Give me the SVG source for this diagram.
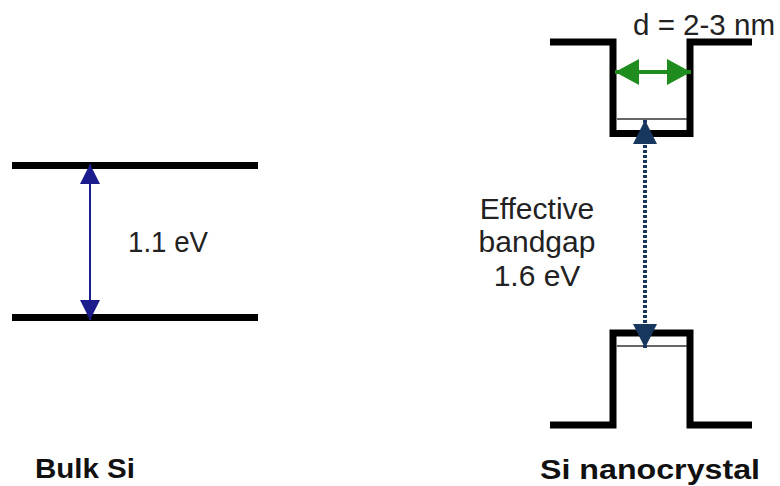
<svg xmlns="http://www.w3.org/2000/svg" width="780" height="486" viewBox="0 0 780 486">
<style>
.band{stroke:#000;stroke-width:7;fill:none;stroke-linejoin:miter;stroke-linecap:butt}
.lvl{stroke:#333;stroke-width:1.5;fill:none}
.t{font-family:"Liberation Sans",Arial,sans-serif;font-size:30px;fill:#222}
.b{font-family:"Liberation Sans",Arial,sans-serif;font-size:28px;font-weight:bold;fill:#111}
</style>
<defs>
<marker id="navyHead" viewBox="0 0 20 24" refX="20" refY="12" markerWidth="20" markerHeight="24" markerUnits="userSpaceOnUse" orient="auto-start-reverse">
<path d="M0,2 L20,12 L0,22 Z" fill="#1c1c8c"/>
</marker>
<marker id="blueHead" viewBox="0 0 24 24" refX="24" refY="12" markerWidth="24" markerHeight="24" markerUnits="userSpaceOnUse" orient="auto-start-reverse">
<path d="M0,0 L24,12 L0,24 Z" fill="#17375e"/>
</marker>
<marker id="greenHead" viewBox="0 0 24 26" refX="24" refY="13" markerWidth="24" markerHeight="26" markerUnits="userSpaceOnUse" orient="auto-start-reverse">
<path d="M0,0 L24,13 L0,26 Z" fill="#1e8c1e"/>
</marker>
</defs>
<g id="bulk-si">
<line class="band" x1="12" y1="165.5" x2="258" y2="165.5"/>
<line class="band" x1="12" y1="317.5" x2="258" y2="317.5"/>
<text class="t" x="128" y="252" textLength="80" lengthAdjust="spacingAndGlyphs">1.1 eV</text>
<text class="b" x="35" y="478" textLength="100" lengthAdjust="spacingAndGlyphs">Bulk Si</text>
</g>
<g id="nanocrystal">
<path class="band" d="M550,42 H613 V133.5 H690 V42 H752"/>
<line class="lvl" x1="617" y1="119" x2="687" y2="119"/>
<path class="band" d="M550,425 H613 V333 H690 V425 H752"/>
<line class="lvl" x1="617" y1="346" x2="687" y2="346"/>
<text class="t" x="633" y="35" textLength="142" lengthAdjust="spacingAndGlyphs">d = 2-3 nm</text>
<text class="t" text-anchor="middle" x="537" y="219">Effective</text>
<text class="t" text-anchor="middle" x="537" y="252">bandgap</text>
<text class="t" text-anchor="middle" x="537" y="286">1.6 eV</text>
<text class="b" x="540" y="479" textLength="220" lengthAdjust="spacingAndGlyphs">Si nanocrystal</text>
</g>
<g id="connectors">
<line x1="90" y1="164" x2="90" y2="320" stroke="#1c1c8c" stroke-width="2" marker-start="url(#navyHead)" marker-end="url(#navyHead)"/>
<line x1="645" y1="120" x2="645" y2="348" stroke="#17375e" stroke-width="4" stroke-dasharray="3 2" marker-start="url(#blueHead)" marker-end="url(#blueHead)"/>
<line x1="615" y1="72" x2="691" y2="72" stroke="#1e8c1e" stroke-width="4" marker-start="url(#greenHead)" marker-end="url(#greenHead)"/>
</g>
</svg>
